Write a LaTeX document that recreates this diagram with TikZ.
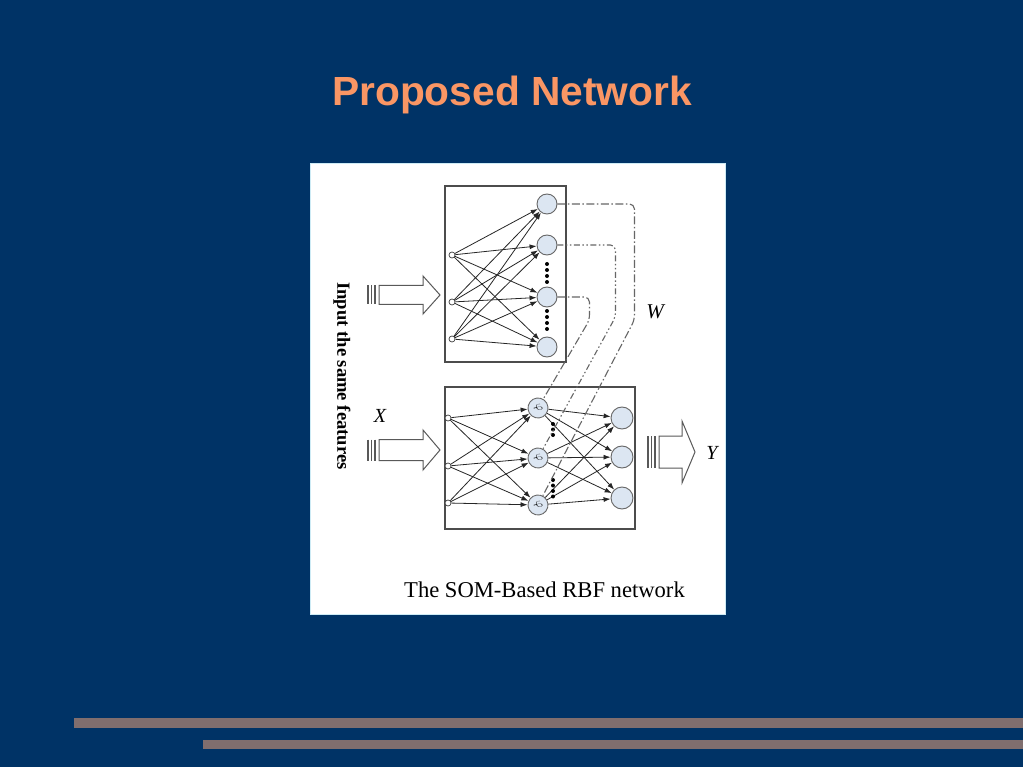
\documentclass[tikz,border=0pt]{standalone}
\usepackage{fontspec}
\setmainfont{Liberation Serif}
\newfontfamily\titlefont{Liberation Sans}
\usetikzlibrary{positioning,arrows.meta}
\definecolor{slidebg}{RGB}{0,51,102}
\definecolor{titleorange}{RGB}{250,150,100}
\definecolor{barmauve}{RGB}{128,110,110}
\definecolor{cellblue}{RGB}{220,230,242}
\definecolor{panelrim}{RGB}{205,235,245}
\tikzstyle{inp}=[draw=black!75,circle,fill=white,inner sep=0pt,minimum size=6pt,line width=0.7pt]
\tikzstyle{cell}=[draw=black!60,circle,fill=cellblue,inner sep=0pt,minimum size=20pt,line width=0.9pt,font=\fontsize{13}{13}\selectfont]
\tikzstyle{outcell}=[cell,minimum size=22pt]
\tikzstyle{layerbox}=[draw=black!70,line width=1.2pt]
\tikzstyle{wline}=[draw=black!60,line width=1.1pt,dash pattern=on 8pt off 2.5pt on 1.5pt off 2.5pt,rounded corners=5pt]
\tikzstyle{wlinedd}=[wline,dash pattern=on 6pt off 2.5pt on 1.5pt off 2.5pt on 1.5pt off 2.5pt]
\tikzstyle{hollow}=[draw=black!65,fill=white,line width=1pt]
\newcommand{\newNeuron}[4]{\node[#3](#1) at (#4){#2};}
\newcommand{\bigArrow}[6]{% tail x, mid y, head x, tip x, shaft half, head half
  \foreach \s in {0,3.5,7}
    \draw[black!65,line width=1.2pt] ({#1+\s},{#2-#5}) -- ({#1+\s},{#2+#5});
  \draw[hollow] ({#1+11},{#2-#5}) -- ({#3},{#2-#5}) -- ({#3},{#2-#6}) -- ({#4},{#2})
    -- ({#3},{#2+#6}) -- ({#3},{#2+#5}) -- ({#1+11},{#2+#5}) -- cycle;}
\newcommand{\dotColumn}[4]{\foreach \k in {1,...,#4} \fill ({#1},{#2+(\k-1)*#3}) circle (2pt);}

\begin{document}
\begin{tikzpicture}[x=1pt,y=-1pt,
      >={Latex[length=7pt,width=5pt]},
      line width=0.8pt
      ]
      \useasboundingbox (0,0) rectangle (1023,767);
      \fill[slidebg] (0,0) rectangle (1023,767);
      \node[text=titleorange,font=\titlefont\bfseries\fontsize{40.7}{48}\selectfont,anchor=base] (title) at (512,106) {Proposed Network};
      \fill[barmauve] (74,718) rectangle (1023,728);
      \fill[barmauve] (203,740) rectangle (1023,749);
      
      \draw[panelrim,fill=white] (310,163) rectangle (725,614);
      \draw[layerbox] (445,186) rectangle (566,362);
      \draw[layerbox] (445,387) rectangle (635,529);
      
      % SOM layer
      \newNeuron{tin1}{}{inp}{452,255}
      \newNeuron{tin2}{}{inp}{452,302}
      \newNeuron{tin3}{}{inp}{452,339}
      \newNeuron{tout1}{}{cell}{547,204}
      \newNeuron{tout2}{}{cell}{547,245}
      \newNeuron{tout3}{}{cell}{547,297}
      \newNeuron{tout4}{}{cell}{547,347}
      \foreach \i in {1,2,3}
        \foreach \j in {1,...,4}
          \draw[->,black!85] (tin\i) -- (tout\j);
      \dotColumn{547}{264}{6}{4}
      \dotColumn{547}{311}{6}{4}
      
      % RBF layer
      \newNeuron{bin1}{}{inp}{448,418}
      \newNeuron{bin2}{}{inp}{448,466}
      \newNeuron{bin3}{}{inp}{448,503}
      \newNeuron{hid1}{$\varphi$}{cell,rotate=-60}{538,408}
      \newNeuron{hid2}{$\varphi$}{cell,rotate=-60}{538,458}
      \newNeuron{hid3}{$\varphi$}{cell,rotate=-60}{538,505}
      \newNeuron{bout1}{}{outcell}{622,418}
      \newNeuron{bout2}{}{outcell}{622,457}
      \newNeuron{bout3}{}{outcell}{622,498}
      \foreach \i in {1,2,3}
        \foreach \j in {1,2,3}
          {\draw[->,black!85] (bin\i) -- (hid\j);
           \draw[->,black!85] (hid\i) -- (bout\j);}
      \dotColumn{553}{424}{5.5}{3}
      \dotColumn{553}{480}{5.5}{4}
      
      % W links
      \draw[wline] (tout1.east) -- ++(77,0) -- ++(0,116) -- (hid3);
      \draw[wlinedd] (tout2.east) -- ++(58,0) -- ++(0,72) -- (hid2);
      \draw[wline] (tout3.east) -- ++(32,0) -- ++(0,23) -- (hid1);
      
      \bigArrow{368}{295}{423}{440}{9.5}{19}
      \bigArrow{368}{450}{423}{440}{10.5}{20}
      \bigArrow{648}{452}{682}{695}{16}{31}
      
      \node[font=\bfseries\fontsize{18.6}{20}\selectfont,rotate=-90] (feat) at (342,376) {Input the same features};
      \node[font=\itshape\fontsize{21}{24}\selectfont] (wlab) at (655,312) {W};
      \node[font=\itshape\fontsize{20}{24}\selectfont] (xlab) at (380,416) {X};
      \node[font=\itshape\fontsize{20}{24}\selectfont] (ylab) at (712,453) {Y};
      \node[font=\fontsize{22.6}{26}\selectfont,anchor=base] (cap) at (544.5,597) {The SOM-Based RBF network};
    \end{tikzpicture}
\end{document}
